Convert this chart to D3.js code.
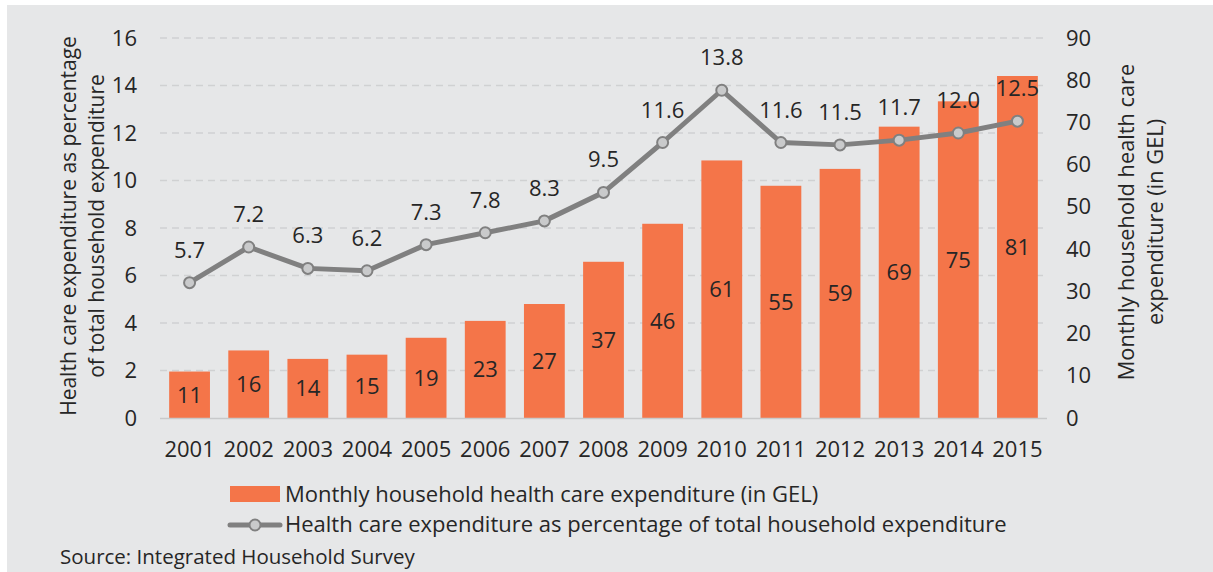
<!DOCTYPE html>
<html>
<head>
<meta charset="utf-8">
<script src="https://cdn.jsdelivr.net/npm/d3@7"></script>
<style>
  html, body { margin: 0; padding: 0; background: #fff; }
  svg { display: block; }
  text { font-family: "Open Sans", sans-serif; fill: #262626; }
</style>
</head>
<body>
<svg id="chart" width="1213" height="572"></svg>
<script>
// Household health care spending, 2001–2015
const years = ["2001","2002","2003","2004","2005","2006","2007","2008","2009","2010","2011","2012","2013","2014","2015"];
const monthlyGEL = [11, 16, 14, 15, 19, 23, 27, 37, 46, 61, 55, 59, 69, 75, 81];
const sharePct = [5.7, 7.2, 6.3, 6.2, 7.3, 7.8, 8.3, 9.5, 11.6, 13.8, 11.6, 11.5, 11.7, 12.0, 12.5];
const leftTicks = [0, 2, 4, 6, 8, 10, 12, 14, 16];
const rightTicks = [0, 10, 20, 30, 40, 50, 60, 70, 80, 90];

const barName = "Monthly household health care expenditure (in GEL)";
const lineName = "Health care expenditure as percentage of total household expenditure";
const source = "Source: Integrated Household Survey";

const FONT = "'Open Sans', sans-serif";
const FS = "22px";
const orange = "#f47549";
const grey = "#808080";
const bg = "#e6e7e8";

const svg = d3.select("#chart");
svg.append("rect").attr("x", 7).attr("y", 5).attr("width", 1206).attr("height", 567).attr("fill", bg);

const plot = { left: 160, right: 1047, top: 38, bottom: 418 };

const x = d3.scaleBand().domain(years).range([plot.left, plot.right]).paddingInner(0.31).paddingOuter(0.155);
const yL = d3.scaleLinear().domain([0, 16]).range([plot.bottom, plot.top]);
const yR = d3.scaleLinear().domain([0, 90]).range([plot.bottom, plot.top]);

function styleAxis(g) {
  g.select(".domain").remove();
  g.selectAll("text").style("font-size", FS).style("font-family", FONT).attr("fill", "#262626");
}

// gridlines
svg.append("g").selectAll("line").data(leftTicks.filter(d => d > 0)).join("line")
  .attr("x1", plot.left).attr("x2", plot.right - 2)
  .attr("y1", d => yL(d)).attr("y2", d => yL(d))
  .attr("stroke", "#d0d1d2").attr("stroke-width", 1.5).attr("stroke-dasharray", "7,5");

// left axis
svg.append("g").attr("transform", `translate(${plot.left},0)`)
  .call(d3.axisLeft(yL).tickValues(leftTicks).tickSize(0).tickPadding(23))
  .call(styleAxis);

// right axis
svg.append("g").attr("transform", `translate(${plot.right},0)`)
  .call(d3.axisRight(yR).tickValues(rightTicks).tickSize(0).tickPadding(19))
  .call(styleAxis);

// bars
svg.append("g").selectAll("rect").data(years).join("rect")
  .attr("x", d => x(d)).attr("width", x.bandwidth())
  .attr("y", (d, i) => yR(monthlyGEL[i]))
  .attr("height", (d, i) => yR(0) - yR(monthlyGEL[i]))
  .attr("fill", orange);

// baseline
svg.append("line").attr("x1", plot.left).attr("x2", plot.right)
  .attr("y1", plot.bottom + 0.5).attr("y2", plot.bottom + 0.5)
  .attr("stroke", "#c8c9ca").attr("stroke-width", 1.5);

// x axis labels
svg.append("g").attr("transform", `translate(0,${plot.bottom})`)
  .call(d3.axisBottom(x).tickSize(0).tickPadding(23))
  .call(styleAxis);

// bar value labels
svg.append("g").selectAll("text").data(years).join("text")
  .attr("x", d => x(d) + x.bandwidth() / 2)
  .attr("y", (d, i) => (yR(monthlyGEL[i]) + yR(0)) / 2 + 8)
  .attr("text-anchor", "middle").style("font-size", FS)
  .text((d, i) => monthlyGEL[i]);

// share line
const cx = d => x(d) + x.bandwidth() / 2;
const line = d3.line().x((d, i) => cx(years[i])).y(d => yL(d));
svg.append("path").datum(sharePct).attr("d", line)
  .attr("fill", "none").attr("stroke", grey).attr("stroke-width", 5).attr("stroke-linejoin", "round");

svg.append("g").selectAll("circle").data(sharePct).join("circle")
  .attr("cx", (d, i) => cx(years[i])).attr("cy", d => yL(d)).attr("r", 5.5)
  .attr("fill", "#c9cacb").attr("stroke", grey).attr("stroke-width", 2);

svg.append("g").selectAll("text").data(sharePct).join("text")
  .attr("x", (d, i) => cx(years[i])).attr("y", d => yL(d) - 25)
  .attr("text-anchor", "middle").style("font-size", FS)
  .text(d => d.toFixed(1));

// axis titles
const leftTitle = svg.append("text").attr("text-anchor", "middle").style("font-size", "21px")
  .attr("transform", "translate(76,226) rotate(-90)");
leftTitle.append("tspan").attr("x", 0).attr("dy", 0).text("Health care expenditure as percentage");
leftTitle.append("tspan").attr("x", 0).attr("dy", 28).text("of total household expenditure");

const rightTitle = svg.append("text").attr("text-anchor", "middle").style("font-size", "21.8px")
  .attr("transform", "translate(1134,222) rotate(-90)");
rightTitle.append("tspan").attr("x", 0).attr("dy", 0).text("Monthly household health care");
rightTitle.append("tspan").attr("x", 0).attr("dy", 29).text("expenditure (in GEL)");

// legend
const lg = svg.append("g");
lg.append("rect").attr("x", 230).attr("y", 486).attr("width", 50).attr("height", 16).attr("fill", orange);
lg.append("text").attr("x", 285).attr("y", 502).style("font-size", FS).text(barName);
lg.append("line").attr("x1", 230).attr("x2", 280).attr("y1", 525).attr("y2", 525)
  .attr("stroke", grey).attr("stroke-width", 5).attr("stroke-linecap", "round");
lg.append("circle").attr("cx", 255).attr("cy", 525).attr("r", 5.5)
  .attr("fill", "#c9cacb").attr("stroke", grey).attr("stroke-width", 2);
lg.append("text").attr("x", 285).attr("y", 532).style("font-size", FS).text(lineName);

// source note
svg.append("text").attr("x", 60).attr("y", 564).style("font-size", "20.5px").attr("fill", "#404040")
  .text(source);
</script>
</body>
</html>
